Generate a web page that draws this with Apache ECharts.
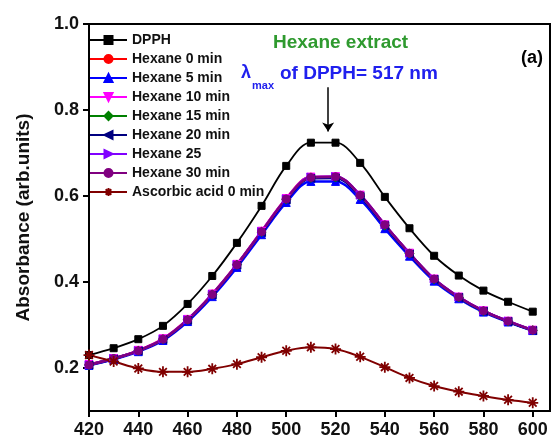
<!DOCTYPE html>
<html>
<head>
<meta charset="utf-8">
<script src="https://cdn.jsdelivr.net/npm/echarts@6/dist/echarts.min.js"></script>
<style>
  html, body { margin: 0; padding: 0; background: #fff; }
  #main { width: 560px; height: 445px; }
</style>
</head>
<body>
<div id="main"></div>
<script>
// wavelength (nm)
var wavelength = [420, 430, 440, 450, 460, 470, 480, 490, 500, 510, 520, 530, 540, 550, 560, 570, 580, 590, 600];

// absorbance values
var dpph      = [0.230, 0.246, 0.267, 0.298, 0.349, 0.414, 0.491, 0.577, 0.670, 0.724, 0.724, 0.677, 0.598, 0.525, 0.461, 0.415, 0.380, 0.354, 0.331];
var hexane0   = [0.208, 0.222, 0.241, 0.268, 0.313, 0.372, 0.441, 0.518, 0.594, 0.644, 0.644, 0.601, 0.532, 0.466, 0.406, 0.364, 0.332, 0.308, 0.288];
var hexane5   = [0.206, 0.220, 0.238, 0.264, 0.308, 0.366, 0.434, 0.510, 0.585, 0.634, 0.634, 0.592, 0.524, 0.460, 0.402, 0.361, 0.330, 0.307, 0.287];
var hexane10  = [0.208, 0.222, 0.241, 0.268, 0.313, 0.372, 0.441, 0.518, 0.594, 0.644, 0.645, 0.602, 0.533, 0.467, 0.407, 0.365, 0.333, 0.309, 0.288];
var hexane15  = [0.207, 0.222, 0.240, 0.267, 0.312, 0.371, 0.440, 0.516, 0.592, 0.642, 0.643, 0.600, 0.531, 0.466, 0.406, 0.364, 0.332, 0.308, 0.288];
var hexane20  = [0.207, 0.221, 0.240, 0.266, 0.311, 0.370, 0.439, 0.515, 0.591, 0.641, 0.642, 0.599, 0.531, 0.465, 0.406, 0.364, 0.332, 0.308, 0.287];
var hexane25  = [0.207, 0.222, 0.240, 0.267, 0.312, 0.371, 0.440, 0.517, 0.593, 0.644, 0.645, 0.602, 0.533, 0.467, 0.407, 0.365, 0.333, 0.309, 0.288];
var hexane30  = [0.207, 0.222, 0.240, 0.267, 0.312, 0.371, 0.440, 0.517, 0.593, 0.643, 0.645, 0.602, 0.533, 0.467, 0.407, 0.365, 0.333, 0.309, 0.288];
var ascorbic0 = [0.230, 0.215, 0.199, 0.191, 0.191, 0.198, 0.209, 0.225, 0.240, 0.248, 0.244, 0.226, 0.202, 0.177, 0.158, 0.145, 0.135, 0.126, 0.119];

var xTicks = [420, 440, 460, 480, 500, 520, 540, 560, 580, 600];
var yTicks = [0.2, 0.4, 0.6, 0.8, 1.0];

var FONT = "'Liberation Sans', Arial, sans-serif";

function pairs(values) {
    var out = [];
    for (var i = 0; i < wavelength.length; i++) {
        out.push([wavelength[i], values[i]]);
    }
    return out;
}

// build one line series
function makeSeries(name, values, color, symbol, size, width, extra) {
    var s = {
        name: name,
        type: 'line',
        data: pairs(values),
        smooth: 0.35,
        symbol: symbol,
        symbolSize: size,
        showAllSymbol: true,
        lineStyle: { color: color, width: width },
        itemStyle: { color: color, borderColor: color, borderWidth: 1 },
        emphasis: { disabled: true },
        z: 2
    };
    if (extra) {
        for (var k in extra) s[k] = extra[k];
    }
    return s;
}

var asterisk = 'path://M0,5L10,5M5,0L5,10M1.5,1.5L8.5,8.5M8.5,1.5L1.5,8.5';

var chart = echarts.init(document.getElementById('main'));

var option = {
    animation: false,
    backgroundColor: '#fff',
    textStyle: { fontFamily: FONT },
    grid: {
        left: 89, right: 10, top: 24, bottom: 34,
        show: true, borderColor: '#000', borderWidth: 2
    },
    legend: {
        orient: 'vertical',
        left: 84, top: 28,
        itemWidth: 37, itemHeight: 10, itemGap: 5,
        textStyle: { fontFamily: FONT, fontSize: 14, fontWeight: 'bold', color: '#111', lineHeight: 14 },
        data: ['DPPH', 'Hexane 0 min', 'Hexane 5 min', 'Hexane 10 min', 'Hexane 15 min',
               'Hexane 20 min', 'Hexane 25', 'Hexane 30 min', 'Ascorbic acid 0 min']
    },
    xAxis: {
        type: 'value',
        min: 420, max: 607,
        axisLine: { show: true, lineStyle: { color: '#000', width: 2 } },
        axisTick: { show: true, length: 6, lineStyle: { color: '#000', width: 2 }, customValues: xTicks },
        axisLabel: {
            customValues: xTicks, margin: 10,
            fontFamily: FONT, fontSize: 18, fontWeight: 'bold', color: '#111'
        },
        splitLine: { show: false }
    },
    yAxis: {
        type: 'value',
        min: 0.1, max: 1.0,
        name: 'Absorbance (arb.units)',
        nameLocation: 'middle',
        nameGap: 56,
        nameTextStyle: { fontFamily: FONT, fontSize: 19, fontWeight: 'bold', color: '#111' },
        axisLine: { show: true, lineStyle: { color: '#000', width: 2 } },
        axisTick: { show: true, length: 6, lineStyle: { color: '#000', width: 2 }, customValues: yTicks },
        axisLabel: {
            customValues: yTicks, margin: 10,
            fontFamily: FONT, fontSize: 18, fontWeight: 'bold', color: '#111',
            formatter: function (v) { return v.toFixed(1); }
        },
        splitLine: { show: false }
    },
    series: [
        makeSeries('DPPH', dpph, '#000000', 'rect', 7, 1.8, {
            markLine: {
                silent: true,
                symbol: ['none', 'arrow'],
                symbolSize: 9,
                label: { show: false },
                lineStyle: { color: '#000', width: 1.5, type: 'solid' },
                data: [[{ coord: [517, 0.853] }, { coord: [517, 0.75] }]]
            }
        }),
        makeSeries('Hexane 0 min', hexane0, '#ff0000', 'circle', 8, 2.5),
        makeSeries('Hexane 5 min', hexane5, '#0000ff', 'triangle', 8, 2.5),
        makeSeries('Hexane 10 min', hexane10, '#ff00ff', 'path://M0,0L10,0L5,9Z', 8, 2.5),
        makeSeries('Hexane 15 min', hexane15, '#008000', 'diamond', 9, 2.5),
        makeSeries('Hexane 20 min', hexane20, '#000080', 'path://M0,5L9,0L9,10Z', 8, 2.5),
        makeSeries('Hexane 25', hexane25, '#8000ff', 'path://M9,5L0,0L0,10Z', 8, 2.5),
        makeSeries('Hexane 30 min', hexane30, '#800080', 'circle', 8, 2.5),
        makeSeries('Ascorbic acid 0 min', ascorbic0, '#800000', asterisk, 11, 2, {
            itemStyle: { color: '#800000', borderColor: '#800000', borderWidth: 1.8 }
        })
    ],
    graphic: [
        {
            type: 'text', left: 273, top: 33,
            style: { text: 'Hexane extract', fill: '#2f9a2f', font: 'bold 19px ' + FONT }
        },
        {
            type: 'text', left: 241, top: 64,
            style: { text: 'λ', fill: '#2020ee', font: 'bold 18px ' + FONT }
        },
        {
            type: 'text', left: 252, top: 80,
            style: { text: 'max', fill: '#2020ee', font: 'bold 11px ' + FONT }
        },
        {
            type: 'text', left: 280, top: 64,
            style: { text: 'of DPPH= 517 nm', fill: '#2020ee', font: 'bold 19px ' + FONT }
        },
        {
            type: 'text', left: 521, top: 49,
            style: { text: '(a)', fill: '#000', font: 'bold 18px ' + FONT }
        }
    ]
};

chart.setOption(option);
</script>
</body>
</html>
